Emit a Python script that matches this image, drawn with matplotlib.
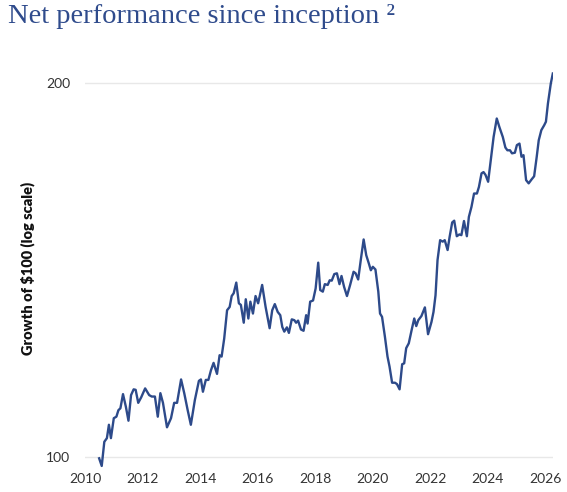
import matplotlib
matplotlib.use("Agg")
import matplotlib.pyplot as plt
from matplotlib.ticker import FixedLocator, NullLocator


# =========================
# Data
# =========================
YEARS = [
    2010.49, 2010.58, 2010.67, 2010.76, 2010.83, 2010.90, 2011.00, 2011.09, 2011.16, 2011.23,
    2011.32, 2011.42, 2011.51, 2011.60, 2011.69, 2011.76, 2011.85, 2011.95, 2012.09, 2012.23,
    2012.32, 2012.43, 2012.53, 2012.62, 2012.71, 2012.85, 2012.99, 2013.10, 2013.20, 2013.34,
    2013.45, 2013.57, 2013.68, 2013.82, 2013.96, 2014.03, 2014.10, 2014.20, 2014.29, 2014.38,
    2014.47, 2014.59, 2014.68, 2014.75, 2014.84, 2014.94, 2015.03, 2015.10, 2015.17, 2015.26,
    2015.35, 2015.42, 2015.52, 2015.59, 2015.68, 2015.75, 2015.84, 2015.93, 2016.02, 2016.16,
    2016.28, 2016.42, 2016.51, 2016.60, 2016.70, 2016.79, 2016.86, 2016.93, 2017.02, 2017.09,
    2017.19, 2017.28, 2017.34, 2017.41, 2017.51, 2017.60, 2017.69, 2017.74, 2017.83, 2017.93,
    2018.02, 2018.11, 2018.18, 2018.27, 2018.34, 2018.44, 2018.51, 2018.58, 2018.67, 2018.76,
    2018.85, 2018.92, 2019.01, 2019.11, 2019.22, 2019.34, 2019.41, 2019.50, 2019.59, 2019.69,
    2019.78, 2019.87, 2019.94, 2020.01, 2020.10, 2020.20, 2020.26, 2020.33, 2020.43, 2020.52,
    2020.59, 2020.68, 2020.78, 2020.85, 2020.94, 2021.03, 2021.10, 2021.17, 2021.26, 2021.36,
    2021.45, 2021.52, 2021.59, 2021.70, 2021.82, 2021.93, 2022.05, 2022.12, 2022.19, 2022.26,
    2022.35, 2022.44, 2022.51, 2022.61, 2022.68, 2022.77, 2022.84, 2022.93, 2023.02, 2023.09,
    2023.18, 2023.28, 2023.35, 2023.44, 2023.53, 2023.63, 2023.70, 2023.79, 2023.86, 2023.93,
    2024.02, 2024.11, 2024.21, 2024.32, 2024.41, 2024.53, 2024.62, 2024.69, 2024.78, 2024.85,
    2024.95, 2025.02, 2025.11, 2025.18, 2025.25, 2025.34, 2025.43, 2025.53, 2025.62, 2025.71,
    2025.78, 2025.87, 2025.97, 2026.03, 2026.10, 2026.20, 2026.27,
]

GROWTH = [
    99.7, 98.3, 102.8, 103.5, 106.1, 103.5, 107.4, 107.7, 109.0, 109.4,
    112.3, 109.7, 106.9, 112.1, 113.3, 113.2, 110.5, 111.6, 113.5, 112.1,
    111.8, 111.8, 107.7, 112.5, 110.5, 105.6, 107.4, 110.5, 110.5, 115.4,
    112.5, 109.0, 106.1, 111.1, 115.1, 115.4, 112.8, 115.3, 115.3, 117.4,
    119.0, 116.6, 120.7, 120.4, 124.5, 131.2, 132.0, 134.7, 135.4, 138.1,
    132.9, 132.5, 128.2, 133.9, 129.2, 133.3, 130.4, 134.7, 132.9, 137.5,
    132.0, 126.9, 131.2, 132.7, 130.8, 130.0, 127.2, 126.1, 127.1, 125.8,
    129.0, 128.8, 128.2, 128.7, 126.6, 126.3, 130.0, 128.0, 133.3, 133.6,
    136.6, 143.3, 136.2, 135.8, 137.7, 137.5, 138.7, 138.6, 140.3, 140.5,
    137.7, 139.8, 137.0, 134.7, 137.5, 140.9, 140.5, 138.9, 144.0, 149.6,
    145.3, 143.1, 141.3, 142.2, 141.5, 135.8, 130.4, 129.6, 124.9, 120.4,
    118.2, 114.7, 114.7, 114.4, 113.3, 118.7, 118.9, 122.3, 123.4, 126.5,
    129.2, 127.4, 128.8, 129.8, 131.9, 125.5, 128.4, 130.8, 134.9, 144.0,
    149.4, 149.0, 149.4, 146.7, 150.3, 154.4, 154.9, 150.5, 151.0, 150.8,
    154.8, 150.5, 156.0, 158.9, 162.9, 162.9, 164.9, 169.1, 169.5, 168.6,
    166.5, 173.3, 180.9, 187.2, 184.3, 180.9, 177.4, 176.5, 176.5, 175.5,
    175.7, 178.2, 178.7, 174.4, 174.9, 167.0, 166.0, 167.2, 168.2, 174.4,
    179.8, 183.2, 184.9, 186.1, 192.5, 199.8, 203.5,
]

X_TICKS = [2010, 2012, 2014, 2016, 2018, 2020, 2022, 2024, 2026]
Y_TICKS = [100, 200]

TITLE = "Net performance since inception \u00b2"
Y_LABEL = "Growth of $100 (log scale)"

# =========================
# Style
# =========================
LINE_COLOR = "#2d4a8a"
TITLE_COLOR = "#2f4b8c"
TICK_COLOR = "#333333"
GRID_COLOR = "#e8e8e8"


def main():
    fig = plt.figure(figsize=(5.67, 4.92), dpi=100)
    ax = fig.add_axes([0.150, 0.044, 0.825, 0.820])

    ax.plot(YEARS, GROWTH, color=LINE_COLOR, linewidth=1.7, solid_joinstyle="round")

    ax.set_yscale("log")
    ax.set_ylim(97.5, 206)
    ax.set_xlim(2010, YEARS[-1])

    ax.yaxis.set_major_locator(FixedLocator(Y_TICKS))
    ax.yaxis.set_minor_locator(NullLocator())
    ax.set_yticklabels([str(v) for v in Y_TICKS])
    ax.set_xticks(X_TICKS)
    ax.set_xticklabels([str(v) for v in X_TICKS])

    for side in ["top", "right", "left", "bottom"]:
        ax.spines[side].set_visible(False)

    ax.grid(axis="y", color=GRID_COLOR, linewidth=1.0)
    ax.set_axisbelow(True)

    ax.tick_params(axis="both", length=0, labelsize=10, labelcolor=TICK_COLOR)
    ax.tick_params(axis="y", pad=10.5)
    ax.tick_params(axis="x", pad=2)
    for lab in ax.get_xticklabels() + ax.get_yticklabels():
        lab.set_family("Lato")

    ax.set_ylabel(Y_LABEL, family="Lato", weight="heavy", fontsize=10.5,
                  color="#111111", labelpad=8)

    fig.text(0.014, 0.967, TITLE, family="Liberation Serif", fontsize=20.5,
             color=TITLE_COLOR, va="center", ha="left")

    fig.savefig("out.png", dpi=100)
    plt.close(fig)


if __name__ == "__main__":
    main()
